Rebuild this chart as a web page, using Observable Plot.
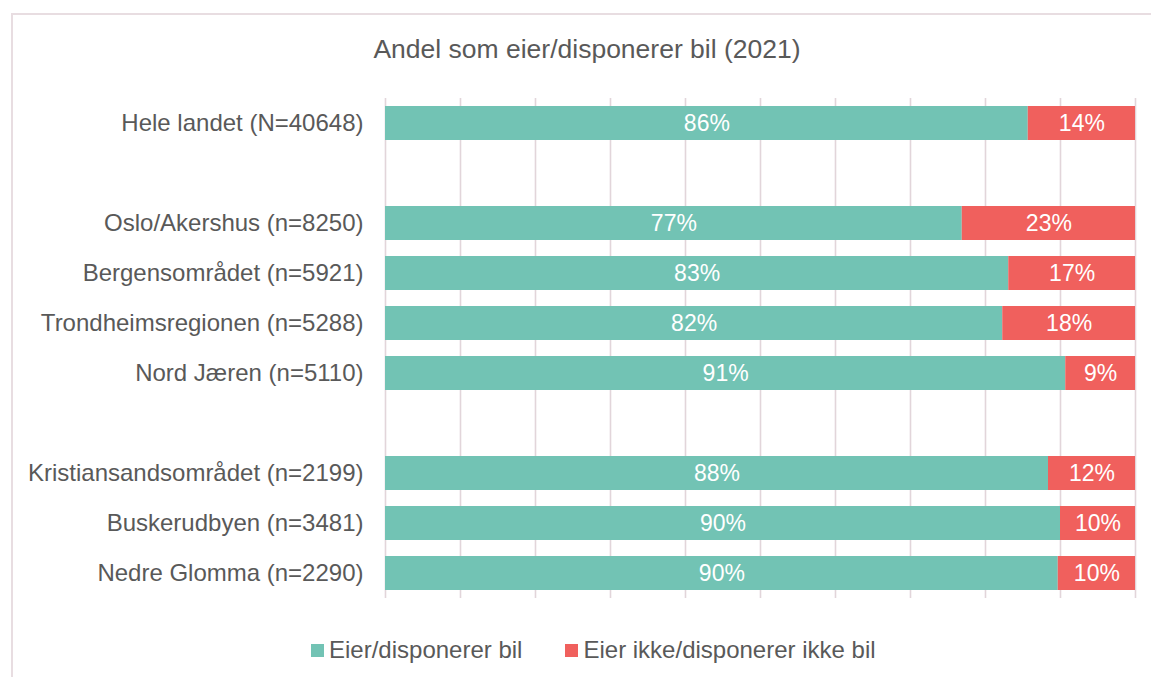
<!DOCTYPE html>
<html>
<head>
<meta charset="utf-8">
<script src="https://cdn.jsdelivr.net/npm/d3@7"></script>
<script src="https://cdn.jsdelivr.net/npm/@observablehq/plot@0.6"></script>
<style>
  html, body { margin: 0; padding: 0; background: #fff; }
  body { width: 1151px; height: 677px; position: relative; overflow: hidden; font-family: "Liberation Sans", Arial, sans-serif; color: #595959; }
  #frame { position: absolute; left: 11px; top: 13px; width: 1300px; height: 800px; border-left: 2px solid #E8DDE1; border-top: 2px solid #E8DDE1; }
  #title { position: absolute; left: 0; width: 1174px; top: 33px; text-align: center; font-size: 26.5px; line-height: 32px; white-space: nowrap; }
  #chart { position: absolute; left: 0; top: 0; }
  #legend { position: absolute; top: 636px; left: 311px; font-size: 24px; line-height: 28px; white-space: nowrap; display: flex; align-items: center; }
  .sw { display: inline-block; width: 13px; height: 13px; margin-right: 5px; }
  .item { display: flex; align-items: center; }
</style>
</head>
<body>
<div id="frame"></div>
<div id="title">Andel som eier/disponerer bil (2021)</div>
<div id="chart"></div>
<div id="legend"></div>
<script>
// Rows (including two blank spacer rows)
const rows = [
  "Hele landet (N=40648)",
  "gap1",
  "Oslo/Akershus (n=8250)",
  "Bergensområdet (n=5921)",
  "Trondheimsregionen (n=5288)",
  "Nord Jæren (n=5110)",
  "gap2",
  "Kristiansandsområdet (n=2199)",
  "Buskerudbyen (n=3481)",
  "Nedre Glomma (n=2290)"
];
const regions = [
  "Hele landet (N=40648)",
  "Oslo/Akershus (n=8250)",
  "Bergensområdet (n=5921)",
  "Trondheimsregionen (n=5288)",
  "Nord Jæren (n=5110)",
  "Kristiansandsområdet (n=2199)",
  "Buskerudbyen (n=3481)",
  "Nedre Glomma (n=2290)"
];
const series = ["Eier/disponerer bil", "Eier ikke/disponerer ikke bil"];
const colors = ["#72C3B4", "#F0605D"];
const eier = [85.7, 76.9, 83.1, 82.3, 90.7, 88.4, 90.0, 89.7];
const ikke = [14.3, 23.1, 16.9, 17.7, 9.3, 11.6, 10.0, 10.3];
const gridTicks = [0, 10, 20, 30, 40, 50, 60, 70, 80, 90, 100];

const data = [];
regions.forEach((r, i) => {
  data.push({region: r, type: series[0], value: eier[i]});
  data.push({region: r, type: series[1], value: ikke[i]});
});

const chart = Plot.plot({
  width: 1151,
  height: 620,
  marginLeft: 385,
  marginRight: 16,
  marginTop: 98,
  marginBottom: 22,
  style: {fontFamily: "'Liberation Sans', Arial, sans-serif", fontSize: "24px", color: "#595959", background: "transparent"},
  x: {domain: [0, 100], axis: null},
  y: {domain: rows, paddingInner: 0.33, paddingOuter: 0.165, axis: null},
  color: {domain: series, range: colors},
  marks: [
    Plot.ruleX(gridTicks, {x: d => d, stroke: "#E2D5DA", strokeWidth: 1.6}),
    Plot.barX(data, Plot.stackX({x: "value", y: "region", fill: "type", order: null})),
    Plot.text(data, Plot.stackX({x: "value", y: "region", z: "type", order: null,
      text: d => Math.round(d.value) + "%", fill: "white", fontSize: 23})),
    Plot.axisY({tickSize: 0, tickPadding: 22, fontSize: 24, fill: "#595959", label: null,
      tickFormat: d => d.startsWith("gap") ? "" : d})
  ]
});
document.getElementById("chart").appendChild(chart);

const legend = document.getElementById("legend");
series.forEach((s, i) => {
  const item = document.createElement("div");
  item.className = "item";
  item.style.marginRight = i === 0 ? "43px" : "0";
  const sw = document.createElement("span");
  sw.className = "sw";
  sw.style.background = colors[i];
  item.appendChild(sw);
  item.appendChild(document.createTextNode(s));
  legend.appendChild(item);
});
</script>
</body>
</html>
